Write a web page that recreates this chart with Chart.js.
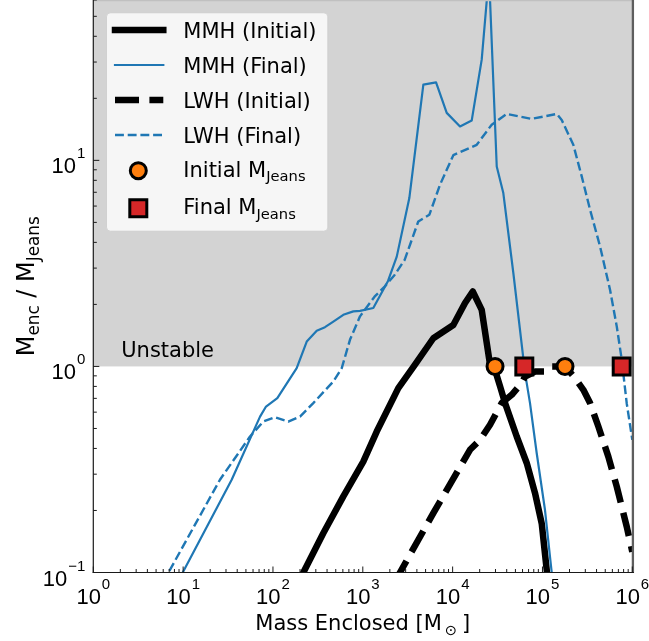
<!DOCTYPE html>
<html><head><meta charset="utf-8">
<script src="https://cdn.jsdelivr.net/npm/chart.js@4.4.0/dist/chart.umd.min.js"></script>
<style>html,body{margin:0;padding:0;background:#fff;}canvas{display:block;}</style>
</head><body>
<canvas id="c" width="649" height="641"></canvas>
<script>
// ---------------- data ----------------
const mmhInitialM = [193, 218, 363, 607, 1013, 1429, 2485, 3810, 6095, 10180, 13740, 16750, 21080, 26090, 29650, 33740, 38350, 51680, 66770, 82600, 98100, 111500, 113500];
const mmhInitialR = [0.09, 0.1, 0.155, 0.234, 0.345, 0.483, 0.785, 1.02, 1.37, 1.59, 2.03, 2.31, 1.88, 1.02, 0.96, 0.80, 0.664, 0.457, 0.340, 0.243, 0.173, 0.103, 0.095];

const mmhFinalM = [8.7, 9.9, 34.7, 71.8, 83.7, 111.8, 183.7, 237.6, 307, 379, 470, 607, 784, 931, 1309, 1909, 2388, 3296, 4721, 6537, 8596, 12085, 16300, 21070, 25400, 30970, 36660, 47400, 63960, 72660, 86300, 106700, 121300, 126800, 128500];
const mmhFinalR = [0.09, 0.1, 0.282, 0.571, 0.639, 0.702, 0.981, 1.32, 1.49, 1.55, 1.65, 1.78, 1.85, 1.86, 1.92, 2.60, 3.41, 6.56, 23.3, 23.9, 17.0, 14.6, 15.6, 30.8, 80, 9.34, 6.94, 2.84, 0.93, 0.664, 0.379, 0.201, 0.119, 0.1, 0.09];

const lwhInitialM = [2265, 2594, 6095, 15600, 20180, 26090, 35190, 45470, 58750, 63960, 82600, 111500, 126800, 178200, 223400, 285100, 338800, 419100, 541100, 671600, 867000, 1000000];
const lwhInitialR = [0.09, 0.1, 0.194, 0.394, 0.44, 0.521, 0.664, 0.728, 0.83, 0.893, 0.944, 0.944, 1.0, 1.0, 0.893, 0.770, 0.664, 0.511, 0.365, 0.261, 0.167, 0.126];

const lwhFinalM = [6.0, 6.87, 25.7, 55.5, 78, 105, 148, 200, 281, 470, 583, 721, 931, 1351, 1749, 2260, 2925, 4146, 5500, 7240, 10180, 18550, 27220, 39990, 56230, 75900, 144200, 163800, 220500, 273500, 338800, 437800, 565800, 672000, 762600, 866400, 1000000];
const lwhFinalR = [0.09, 0.1, 0.282, 0.457, 0.540, 0.567, 0.540, 0.571, 0.664, 0.845, 0.981, 1.35, 1.75, 2.18, 2.44, 2.78, 3.29, 5.05, 5.44, 7.62, 10.6, 11.9, 14.9, 16.8, 16.3, 15.9, 16.8, 15.7, 11.9, 8.36, 5.76, 3.82, 2.35, 1.56, 1.08, 0.663, 0.44];

const initialJeansM = [29650, 178200];
const initialJeansR = [1, 1];
const finalJeansM = [62800, 762000];
const finalJeansR = [1, 1];

const seriesLabels = ['MMH (Initial)', 'MMH (Final)', 'LWH (Initial)', 'LWH (Final)'];
const markerLabels = ['Initial M', 'Final M'];
const markerSub = 'Jeans';
const xTickExps = [0, 1, 2, 3, 4, 5, 6];
const yTickExps = [-1, 0, 1];
const xRange = [1, 1e6];
const yRange = [0.1, 60];
const unstableThreshold = 1;
const unstableLabel = 'Unstable';
const xTitle = 'Mass Enclosed [M';
const xTitleSub = '\u2299';
const yTitleParts = ['M', 'enc', ' / M', 'Jeans'];

// ---------------- styles ----------------
const BLUE = '#1f77b4', ORANGE = '#ff7f0e', RED = '#d62728';
const FONT = '"DejaVu Sans", sans-serif';
const TICKFONT = '"Liberation Sans", Arial, sans-serif';
const xy = (ms, rs) => ms.map((m, i) => ({x: m, y: rs[i]}));

const lineStyles = [
  {color: '#000', width: 6.5, dash: []},
  {color: BLUE, width: 2.2, dash: []},
  {color: '#000', width: 6.5, dash: [24, 10.4]},
  {color: BLUE, width: 2.4, dash: [8.9, 3.8]}
];
const lineData = [xy(mmhInitialM, mmhInitialR), xy(mmhFinalM, mmhFinalR), xy(lwhInitialM, lwhInitialR), xy(lwhFinalM, lwhFinalR)];
const lineOrder = [5, 4, 3, 2];

const datasets = lineData.map((d, i) => ({
  label: seriesLabels[i], data: d,
  borderColor: lineStyles[i].color, borderWidth: lineStyles[i].width, borderDash: lineStyles[i].dash,
  borderJoinStyle: 'round', borderCapStyle: 'butt', pointRadius: 0, tension: 0, fill: false,
  clip: 0, order: lineOrder[i]
}));
datasets.push({
  label: 'Initial MJeans', data: xy(initialJeansM, initialJeansR), showLine: false,
  pointStyle: 'circle', pointRadius: 8, pointBorderWidth: 3,
  pointBackgroundColor: ORANGE, pointBorderColor: '#000', order: 1
});
datasets.push({
  label: 'Final MJeans', data: xy(finalJeansM, finalJeansR), showLine: false,
  pointStyle: 'rect', pointRadius: 12, pointBorderWidth: 3,
  pointBackgroundColor: RED, pointBorderColor: '#000', order: 0
});

function line(ctx, x1, y1, x2, y2) { ctx.beginPath(); ctx.moveTo(x1, y1); ctx.lineTo(x2, y2); ctx.stroke(); }

function supLabel(ctx, base, sup, x, y, align) {
  ctx.font = '22px ' + TICKFONT; const wb = ctx.measureText(base).width;
  ctx.font = '15px ' + TICKFONT; const ws = ctx.measureText(sup).width;
  const total = wb + ws + 1;
  let sx = align === 'center' ? x - total / 2 : x - total;
  ctx.textAlign = 'left'; ctx.textBaseline = 'alphabetic';
  ctx.font = '22px ' + TICKFONT; ctx.fillText(base, sx, y);
  ctx.font = '15px ' + TICKFONT; ctx.fillText(sup, sx + wb + 1, y - 15);
}

function partsWidth(ctx, parts) {
  let w = 0; parts.forEach(p => { ctx.font = p.size + 'px ' + FONT; w += ctx.measureText(p.t).width + (p.gap || 0); }); return w;
}
function drawParts(ctx, parts, x, y) {
  ctx.textAlign = 'left'; ctx.textBaseline = 'alphabetic';
  let cx = x;
  parts.forEach(p => { ctx.font = p.size + 'px ' + FONT; ctx.fillText(p.t, cx, y + (p.dy || 0)); cx += ctx.measureText(p.t).width + (p.gap || 0); });
}

const decor = {
  id: 'decor',
  beforeDatasetsDraw(chart) {
    const {ctx, chartArea: a, scales: {y}} = chart;
    const y1 = y.getPixelForValue(unstableThreshold);
    ctx.save();
    ctx.fillStyle = '#d3d3d3';
    ctx.fillRect(a.left, a.top, a.right - a.left, y1 - a.top);
    ctx.fillStyle = '#000';
    ctx.font = '21px ' + FONT; ctx.textAlign = 'left'; ctx.textBaseline = 'alphabetic';
    ctx.fillText(unstableLabel, 121.2, y1 - 9.3);
    ctx.restore();
  },
  afterDatasetsDraw(chart) {
    const {ctx, chartArea: a, scales: {x, y}} = chart;
    ctx.save();
    ctx.strokeStyle = '#c0c0c0'; ctx.lineWidth = 1.5; line(ctx, a.left, 0.6, a.right, 0.6);
    ctx.strokeStyle = '#5e5e5e'; ctx.lineWidth = 2.3; line(ctx, a.right + 0.6, 0, a.right + 0.6, a.bottom + 0.5);
    ctx.strokeStyle = '#1a1a1a'; ctx.lineWidth = 1.2;
    line(ctx, a.left, 0, a.left, a.bottom + 0.6);
    line(ctx, a.left - 0.6, a.bottom, a.right + 1.7, a.bottom);
    ctx.lineWidth = 1;
    xTickExps.forEach((k, idx) => {
      for (let m = 1; m <= 9; m++) {
        if (m > 1 && idx === xTickExps.length - 1) break;
        const px = x.getPixelForValue(m * Math.pow(10, k));
        line(ctx, px, a.bottom, px, a.bottom - (m === 1 ? 6 : 3.5));
      }
    });
    for (let k = yTickExps[0]; k <= yTickExps[yTickExps.length - 1]; k++) {
      for (let m = 1; m <= 9; m++) {
        const v = m * Math.pow(10, k);
        if (v > yRange[1]) break;
        const py = y.getPixelForValue(v);
        line(ctx, a.left, py, a.left + (m === 1 ? 6 : 3.5), py);
      }
    }
    ctx.fillStyle = '#000';
    xTickExps.forEach(k => supLabel(ctx, '10', String(k).replace('-', '\u2212'), x.getPixelForValue(Math.pow(10, k)), a.bottom + 31.5, 'center'));
    yTickExps.forEach(k => supLabel(ctx, '10', String(k).replace('-', '\u2212'), a.left - 8, y.getPixelForValue(Math.pow(10, k)) + 13, 'right'));
    const xp = [{t: xTitle, size: 21, gap: 3}, {t: xTitleSub, size: 14.7, dy: 5, gap: 5}, {t: ']', size: 21}];
    const xw = partsWidth(ctx, xp);
    drawParts(ctx, xp, (a.left + a.right) / 2 - xw / 2, 630);
    const yp = [{t: yTitleParts[0], size: 24}, {t: yTitleParts[1], size: 16.8, dy: 5}, {t: yTitleParts[2], size: 24}, {t: yTitleParts[3], size: 16.8, dy: 5}];
    const yw = partsWidth(ctx, yp);
    ctx.save(); ctx.translate(34, (a.top + a.bottom) / 2); ctx.rotate(-Math.PI / 2);
    drawParts(ctx, yp, -yw / 2, 0); ctx.restore();
    const L = {x: 106, y: 12.3, w: 221.3, h: 218.4, r: 4};
    ctx.beginPath();
    ctx.roundRect(L.x + 0.5, L.y + 0.5, L.w, L.h, L.r);
    ctx.fillStyle = 'rgba(255,255,255,0.8)'; ctx.fill();
    ctx.strokeStyle = 'rgba(204,204,204,0.8)'; ctx.lineWidth = 1; ctx.stroke();
    const rowY = [30, 65, 100, 135, 170.7, 208.3];
    const baseY = [38.3, 73.3, 108.3, 143.3, 176.7, 214.3];
    const hx1 = 115, hx2 = 163.3, mx = 138.3, tx = 183.3;
    lineStyles.forEach((s, i) => {
      ctx.strokeStyle = s.color; ctx.lineWidth = s.width; ctx.setLineDash(s.dash);
      ctx.lineCap = s.dash.length ? 'butt' : 'square';
      line(ctx, hx1, rowY[i], hx2, rowY[i]);
    });
    ctx.setLineDash([]); ctx.lineCap = 'butt';
    ctx.lineWidth = 3; ctx.strokeStyle = '#000';
    ctx.beginPath(); ctx.arc(mx, rowY[4], 8, 0, Math.PI * 2); ctx.fillStyle = ORANGE; ctx.fill(); ctx.stroke();
    ctx.beginPath(); ctx.rect(mx - 8.5, rowY[5] - 8.5, 17, 17); ctx.fillStyle = RED; ctx.fill(); ctx.stroke();
    ctx.fillStyle = '#000';
    seriesLabels.forEach((t, i) => drawParts(ctx, [{t, size: 21}], tx, baseY[i]));
    markerLabels.forEach((t, i) => drawParts(ctx, [{t, size: 21}, {t: markerSub, size: 14.7, dy: 4.5}], tx, baseY[4 + i]));
    ctx.restore();
  }
};

new Chart(document.getElementById('c'), {
  type: 'line',
  data: {datasets},
  options: {
    responsive: false, animation: false, devicePixelRatio: 1, events: [],
    layout: {autoPadding: false, padding: {left: 93.3, right: 16.7, top: 0, bottom: 68.5}},
    scales: {
      x: {type: 'logarithmic', min: xRange[0], max: xRange[1], display: false},
      y: {type: 'logarithmic', min: yRange[0], max: yRange[1], display: false}
    },
    plugins: {legend: {display: false}, tooltip: {enabled: false}}
  },
  plugins: [decor]
});
</script>
</body></html>
